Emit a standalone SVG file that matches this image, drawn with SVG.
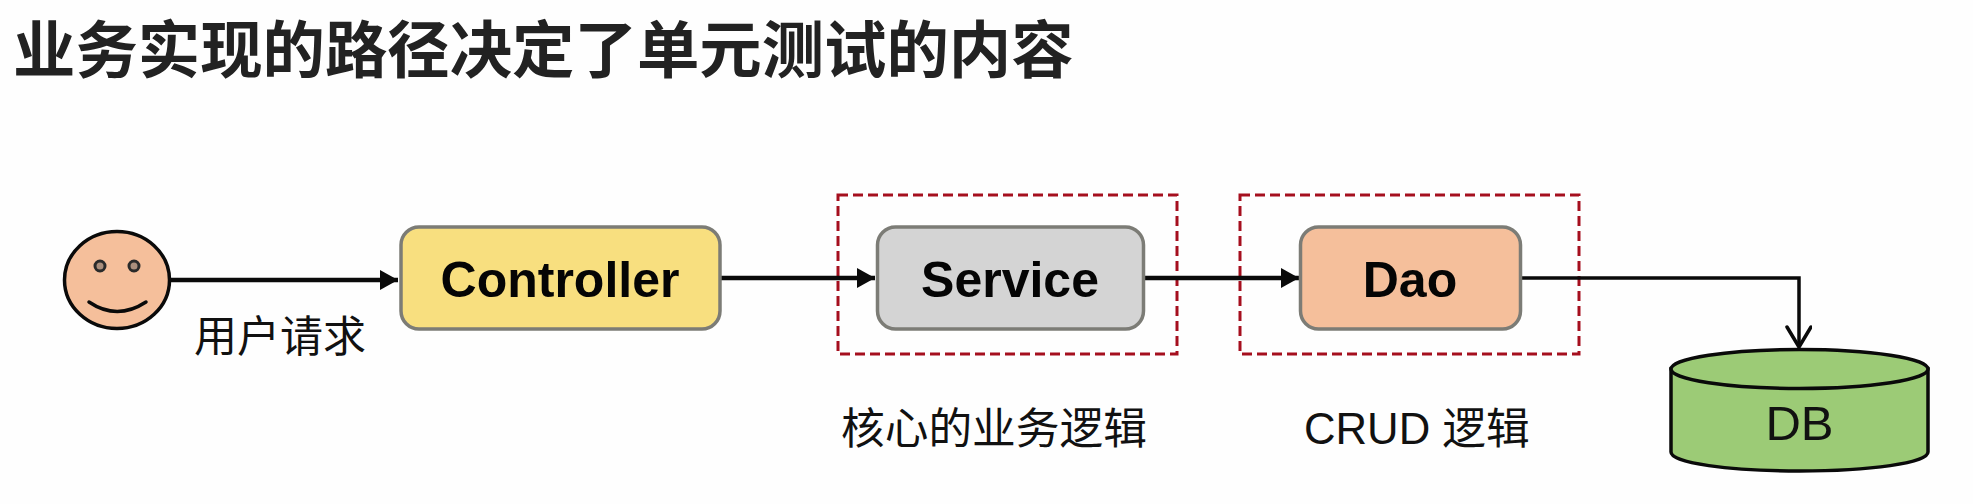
<svg xmlns="http://www.w3.org/2000/svg" width="1973" height="504" viewBox="0 0 1973 504">
  <defs>
    <marker id="solid" markerUnits="userSpaceOnUse" markerWidth="20" markerHeight="22" refX="18" refY="10" orient="auto">
      <path d="M0 0 L18 10 L0 20 Z" fill="#0a0a0a"/>
    </marker>
    <marker id="open" markerUnits="userSpaceOnUse" markerWidth="30" markerHeight="30" refX="22" refY="13" orient="auto">
      <path d="M2 1 L22 13 L2 25" fill="none" stroke="#0a0a0a" stroke-width="3.5" stroke-linecap="round"/>
    </marker>
  </defs>
  <style>
    text { font-family: "Liberation Sans", "Noto Sans CJK SC", sans-serif; fill: #111; }
    .title { font-size: 62.400px; font-weight: 700; fill: #222; }
    .node { stroke: #7c7c76; stroke-width: 3.5; }
    .name { font-size: 50px; font-weight: 700; text-anchor: middle; fill: #050505; }
    .label { font-size: 43.700px; }
    .group { fill: none; stroke: #a50f1e; stroke-width: 3; stroke-dasharray: 10 5; }
    .line { fill: none; stroke: #0a0a0a; stroke-width: 4.5; }
    .ink { stroke: #0a0a0a; stroke-width: 3.5; }
  </style>
  <rect width="1973" height="504" fill="#fefefe"/>
  <text class="title" x="13" y="73">业务实现的路径决定了单元测试的内容</text>

  <g id="service-scope"><rect class="group" x="838" y="195" width="339" height="159"/></g>
  <g id="dao-scope"><rect class="group" x="1240" y="195" width="339" height="159"/></g>

  <g id="connectors">
    <path class="line" d="M171 280 H398" marker-end="url(#solid)"/>
    <path class="line" d="M720 278 H875" marker-end="url(#solid)"/>
    <path class="line" d="M1144 278 H1299" marker-end="url(#solid)"/>
    <path class="line" d="M1521 278 H1799 V347" style="stroke-width:3.5" marker-end="url(#open)"/>
  </g>

  <g id="user">
    <ellipse class="ink" cx="117" cy="280" rx="52.500" ry="48.500" fill="#f5bf9b"/>
    <circle cx="100" cy="266" r="5" fill="#a98e7c" stroke="#2a2a2a" stroke-width="3"/>
    <circle cx="134" cy="266" r="5" fill="#a98e7c" stroke="#2a2a2a" stroke-width="3"/>
    <path d="M89 302 Q117 321 146 302" fill="none" stroke="#0a0a0a" stroke-width="3.5" stroke-linecap="round"/>
  </g>
  <g id="user-label"><text class="label" style="font-size:43px" x="194" y="352">用户请求</text></g>

  <g id="controller">
    <rect class="node" x="401" y="227" width="319" height="102" rx="18" fill="#f8df7f"/>
    <text class="name" x="560" y="297">Controller</text>
  </g>
  <g id="service">
    <rect class="node" x="877.500" y="227" width="266" height="102" rx="18" fill="#d4d4d4"/>
    <text class="name" x="1010" y="297">Service</text>
  </g>
  <g id="dao">
    <rect class="node" x="1300.500" y="227" width="220" height="102" rx="18" fill="#f5bf9b"/>
    <text class="name" x="1410" y="297">Dao</text>
  </g>
  <g id="db">
    <path class="ink" d="M1671 369 V452 C1671 463 1729 471 1799.500 471 C1870 471 1928 463 1928 452 V369 Z" fill="#9ccb76"/>
    <ellipse class="ink" cx="1799.500" cy="369" rx="128.500" ry="19.500" fill="#9ccb76"/>
    <text x="1799.500" y="440" font-size="49" text-anchor="middle" fill="#0a0a0a">DB</text>
  </g>

  <g id="service-note"><text class="label" x="841" y="444">核心的业务逻辑</text></g>
  <g id="dao-note"><text class="label" x="1304" y="444">CRUD 逻辑</text></g>
</svg>
